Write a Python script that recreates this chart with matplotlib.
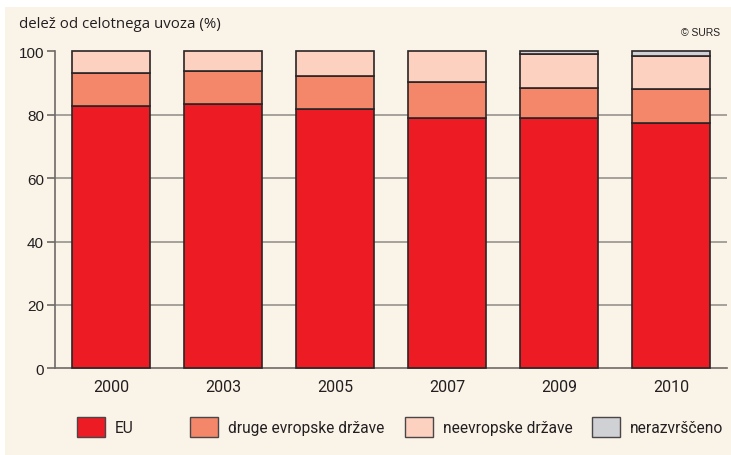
import matplotlib
matplotlib.use("Agg")
import matplotlib.pyplot as plt
from matplotlib.patches import Rectangle
import numpy as np

years = ["2000", "2003", "2005", "2007", "2009", "2010"]
eu = [82.8, 83.3, 81.8, 79.1, 78.9, 77.5]
druge = [10.4, 10.4, 10.5, 11.1, 9.6, 10.6]
neevropske = [6.8, 6.3, 7.7, 9.8, 10.5, 10.4]
nerazvrsceno = [0.0, 0.0, 0.0, 0.0, 1.0, 1.5]
series_names = ["EU", "druge evropske države", "neevropske države", "nerazvrščeno"]
series_colors = ["#ED1C24", "#F4876A", "#FCD1BF", "#CFD1D4"]
yticks = [0, 20, 40, 60, 80, 100]

W, H = 731, 456
fig = plt.figure(figsize=(W / 100, H / 100), dpi=100)
fig.patch.set_facecolor("white")
bg = "#FAF3E8"
fig.patches.append(Rectangle((5 / W, 0), 1 - 5 / W, 1 - 8 / H, transform=fig.transFigure,
                             facecolor=bg, edgecolor="none", zorder=-10))

left, right = 55 / W, 727 / W
bottom, top = 1 - 369.3 / H, 1 - 52.3 / H
ax = fig.add_axes([left, bottom, right - left, top - bottom])
ax.set_facecolor("none")

x = np.arange(len(years))
data = [eu, druge, neevropske, nerazvrsceno]
base = np.zeros(len(years))
for vals, col in zip(data, series_colors):
    vals = np.array(vals)
    mask = vals > 0
    ax.bar(x[mask], vals[mask], bottom=base[mask], width=0.70, color=col,
           edgecolor="#2A2526", linewidth=1.2, zorder=3, clip_on=False)
    base = base + vals

ax.set_xlim(-0.5, 5.5)
ax.set_ylim(0, 100)
for yv in [20, 40, 60, 80]:
    ax.axhline(yv, color="#8F8A85", linewidth=1.1, zorder=1)
ax.axhline(0, color="#6E6A66", linewidth=1.2, zorder=2, clip_on=False)

for s in ["top", "right", "bottom"]:
    ax.spines[s].set_visible(False)
ax.spines["left"].set_color("#6E6A66")
ax.spines["left"].set_linewidth(1.2)

ax.set_yticks(yticks)
ax.set_yticklabels([str(v) for v in yticks], fontsize=11, family=["Liberation Sans", "DejaVu Sans"],
                   color="#231F20")
ax.tick_params(axis="y", length=6, width=1.2, color="#6E6A66", pad=2)
ax.set_xticks(x)
ax.set_xticklabels(years, fontsize=11.5, family=["Roboto", "DejaVu Sans"],
                   color="#231F20")
ax.tick_params(axis="x", length=0, pad=8)

fig.text(19 / W, 1 - 25 / H, "delež od celotnega uvoza (%)", fontsize=10.8, family=["Open Sans", "DejaVu Sans"],
         color="#231F20", va="center", ha="left")
fig.text(720 / W, 1 - 33 / H, "© SURS", fontsize=7.5, family=["Liberation Sans", "DejaVu Sans"],
         color="#231F20", va="center", ha="right")

leg_x = [77, 190, 405, 592]
for lx, name, col in zip(leg_x, series_names, series_colors):
    fig.patches.append(Rectangle((lx / W, 1 - 438 / H), 28 / W, 20 / H, transform=fig.transFigure,
                                 facecolor=col, edgecolor="#4A4546", linewidth=1.0))
    fig.text((lx + 38) / W, 1 - 429 / H, name, fontsize=11.2,
             family=["Roboto", "DejaVu Sans"], color="#231F20",
             va="center", ha="left")

fig.savefig("out.png", dpi=100, facecolor=fig.get_facecolor())
